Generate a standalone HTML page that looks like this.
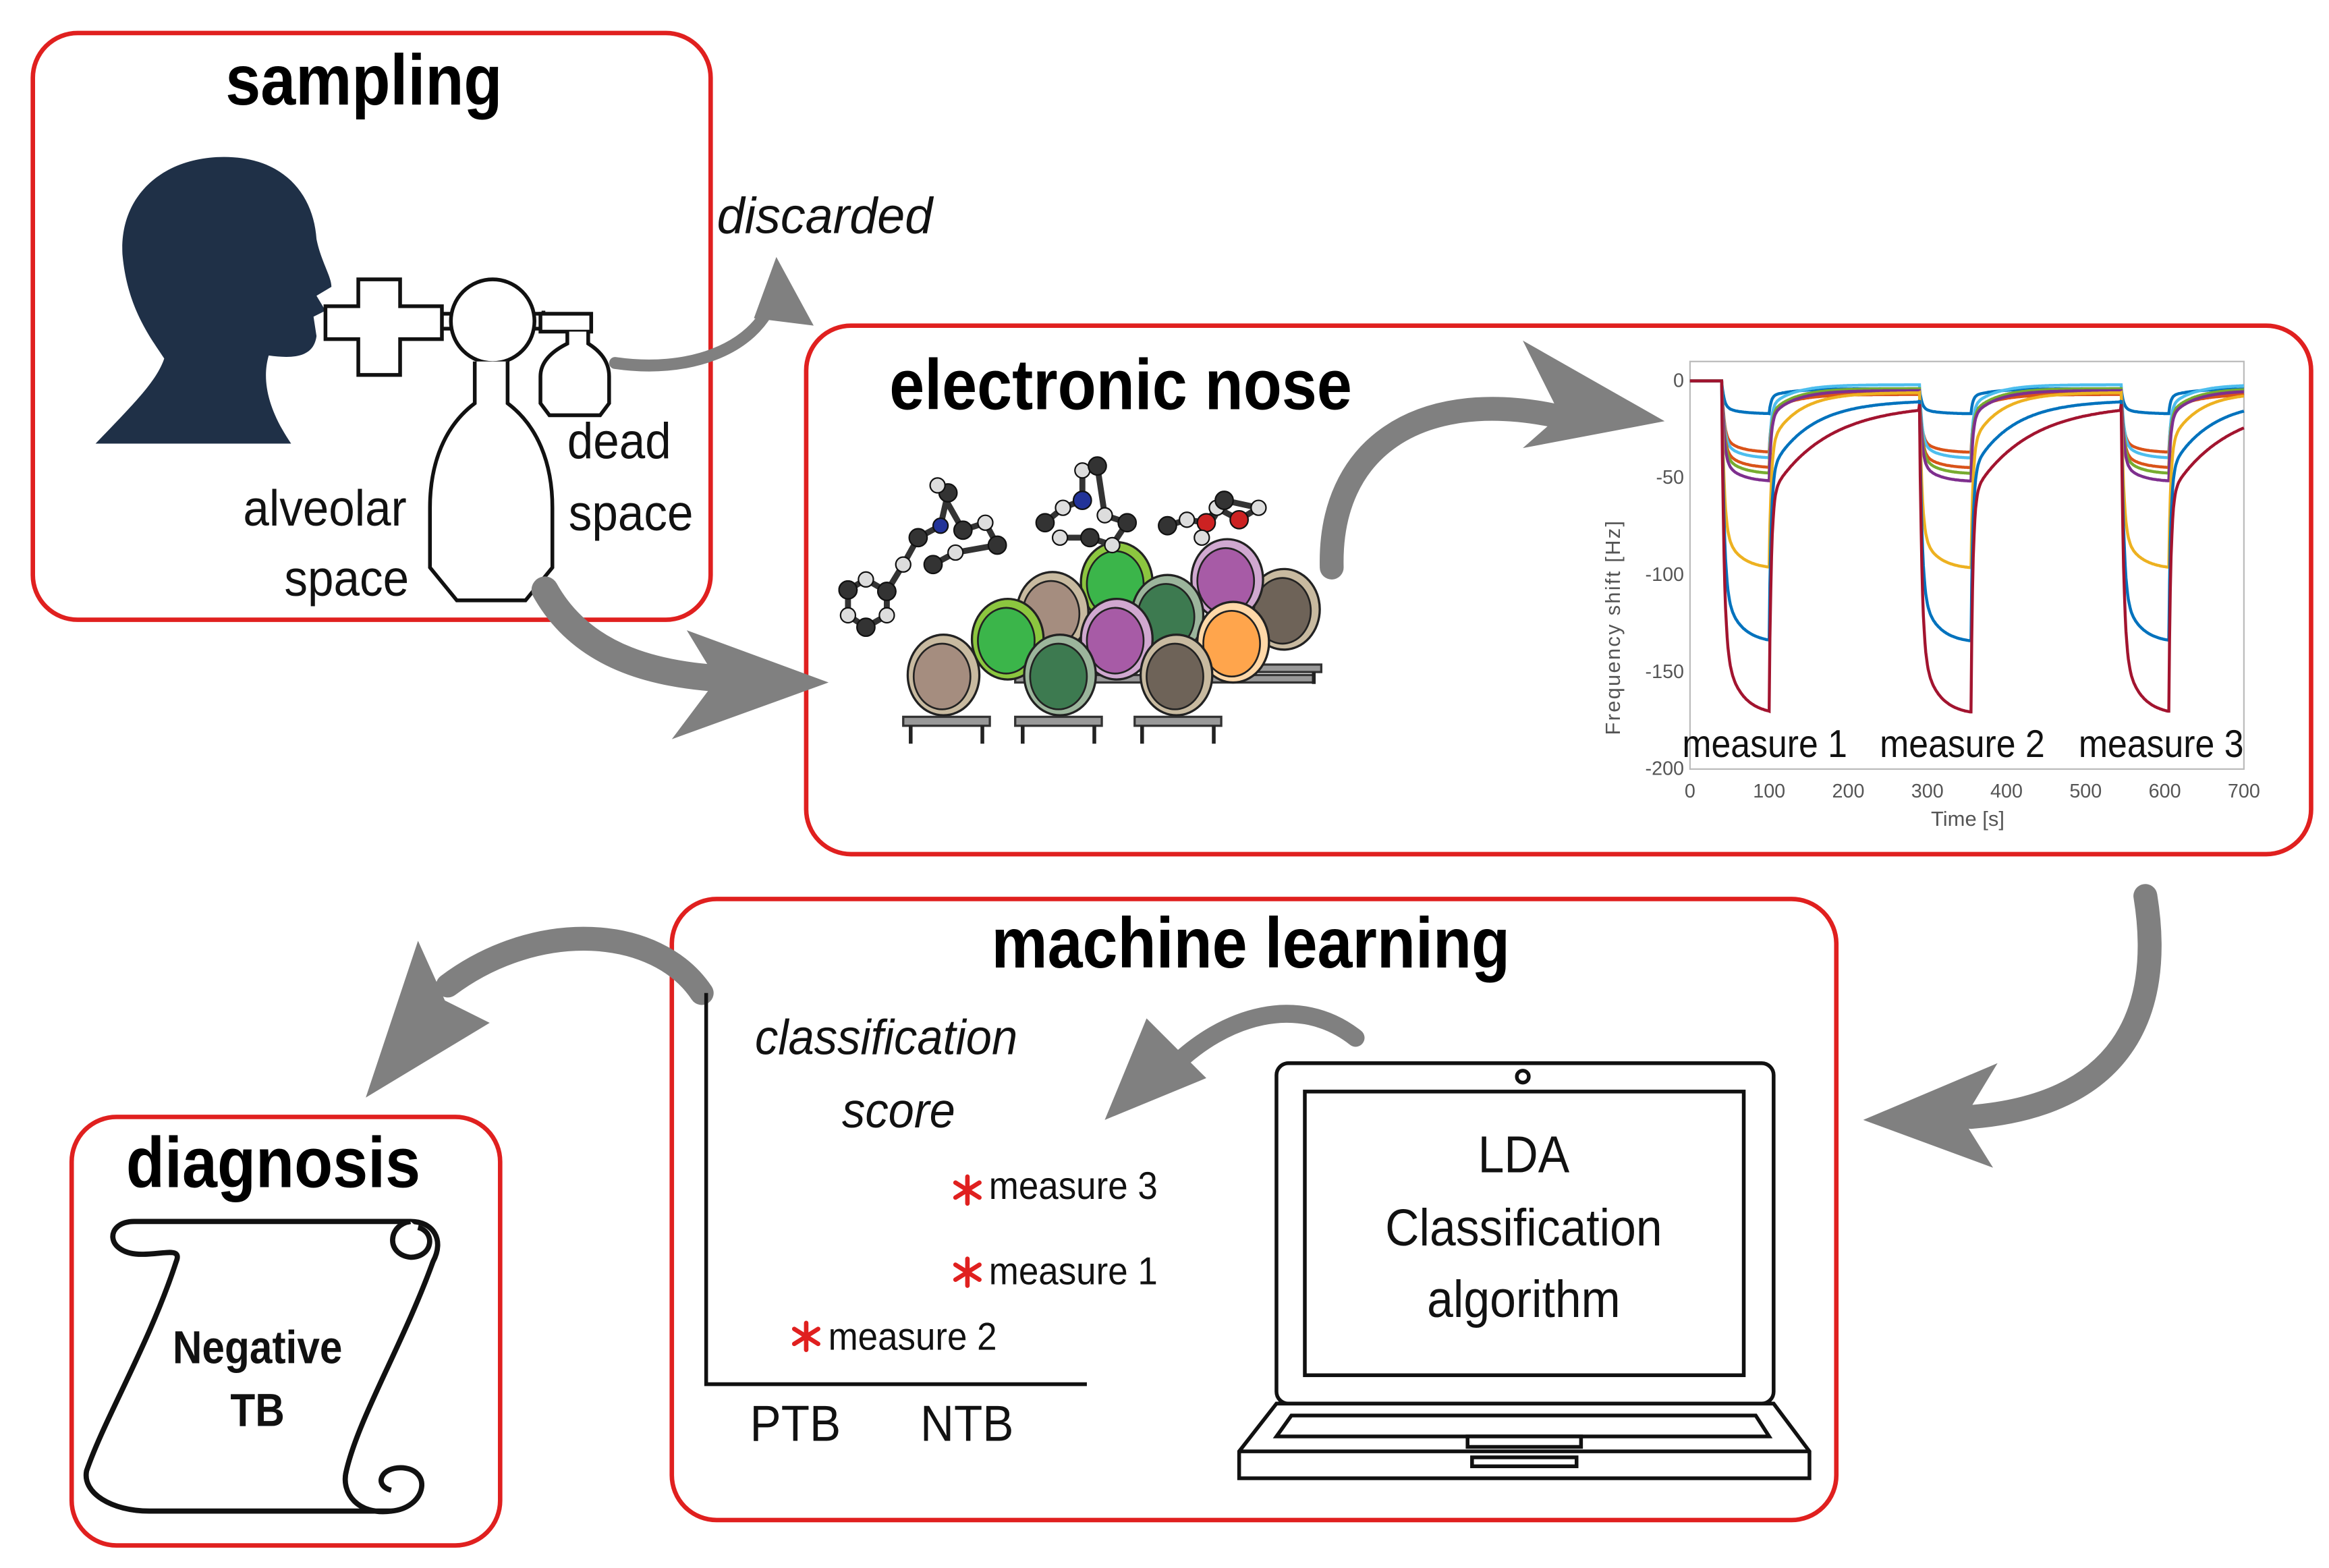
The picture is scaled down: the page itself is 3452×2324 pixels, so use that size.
<!DOCTYPE html>
<html><head><meta charset="utf-8"><style>
html,body{margin:0;padding:0;background:#fff}
svg{display:block}
text{font-family:"Liberation Sans",sans-serif}
</style></head><body>
<svg id="s" width="3452" height="2324" viewBox="0 0 1560 1050" xmlns="http://www.w3.org/2000/svg">
<g fill="none" stroke="#e0201f" stroke-width="3">
<rect x="22" y="22" width="454" height="393" rx="30"/>
<rect x="540" y="218" width="1008" height="354" rx="30"/>
<rect x="450" y="602" width="780" height="416" rx="30"/>
<rect x="48" y="748" width="287" height="287" rx="30"/>
</g>
<g font-weight="bold" text-anchor="middle" font-size="48" transform="scale(0.88,1)">
<text x="277" y="70">sampling</text>
<text x="853" y="274">electronic nose</text>
<text x="952" y="648">machine learning</text>
<text x="208" y="795">diagnosis</text>
</g>
<!-- head -->
<path d="M64,297 C90,270 105,255 110,240 C100,225 85,205 82,170 C80,130 110,105 150,105 C190,105 210,130 212,160 C215,175 222,185 222,192 L212,198 L218,208 L210,212 L212,225 C210,240 195,240 180,238 C175,255 180,275 195,297 Z" fill="#1f3047"/>
<!-- device -->
<g fill="#fff" stroke="#111" stroke-width="2.5">
<path d="M218,205 h22 v-18 h28 v18 h28 v22 h-28 v24 h-28 v-24 h-22z"/>
<path d="M296,210 h68 v-2 M296,220 h68"/>
<path d="M362,210 h34 v12 h-34z"/>
<circle cx="330" cy="215" r="28"/>
<path d="M318,242 v28 c-20,15 -30,40 -30,70 v40 l18,22 h46 l18,-22 v-40 c0,-30 -10,-55 -30,-70 v-28"/>
<path d="M380,222 v8 c-10,5 -18,12 -18,22 v18 l6,8 h34 l6,-8 v-18 c0,-10 -6,-17 -14,-22 v-8"/>
</g>
<g font-size="34" fill="#111" transform="scale(0.92,1)">
<text x="413" y="307">dead</text>
<text x="414" y="355">space</text>
<text x="177" y="352">alveolar</text>
<text x="207" y="399">space</text>
</g>
<text x="490" y="156" font-size="34" font-style="italic" fill="#111" transform="scale(0.98,1)">discarded</text>
<!-- gray arrows -->
<g fill="none" stroke="#808080" stroke-linecap="round">
<path d="M412,243 C460,250 505,235 518,200" stroke-width="8"/>
<path d="M365,395 C390,440 440,455 505,455" stroke-width="18"/>
<path d="M892,380 C890,300 950,260 1040,278" stroke-width="16"/>
<path d="M1437,600 C1450,680 1420,740 1320,748" stroke-width="16"/>
<path d="M908,695 C870,665 820,680 785,715" stroke-width="12"/>
<path d="M470,665 C440,620 360,615 300,660" stroke-width="16"/>
</g>
<g fill="#808080">
<polygon points="505,213 545,218 520,172"/>
<polygon points="460,422 555,457 450,495 480,455"/>
<polygon points="1020,228 1115,282 1020,300 1045,278"/>
<polygon points="1338,712 1248,750 1335,782 1315,750"/>
<polygon points="768,682 740,750 808,722"/>
<polygon points="280,630 245,735 328,685 298,670"/>
</g>
<g id="sensors"></g>
<!-- chart -->
<g font-size="13" fill="#555">
<rect x="1132" y="242" width="371" height="273" fill="none" stroke="#bbb" stroke-width="1"/>
<text x="1128" y="259" text-anchor="end">0</text>
<text x="1128" y="324" text-anchor="end">-50</text>
<text x="1128" y="389" text-anchor="end">-100</text>
<text x="1128" y="454" text-anchor="end">-150</text>
<text x="1128" y="519" text-anchor="end">-200</text>
<text x="1132" y="534" text-anchor="middle">0</text>
<text x="1185" y="534" text-anchor="middle">100</text>
<text x="1238" y="534" text-anchor="middle">200</text>
<text x="1291" y="534" text-anchor="middle">300</text>
<text x="1344" y="534" text-anchor="middle">400</text>
<text x="1397" y="534" text-anchor="middle">500</text>
<text x="1450" y="534" text-anchor="middle">600</text>
<text x="1503" y="534" text-anchor="middle">700</text>
<text x="1318" y="553" text-anchor="middle" font-size="14">Time [s]</text>
<text transform="translate(1085,420) rotate(-90)" text-anchor="middle" font-size="14" letter-spacing="1">Frequency shift [Hz]</text>
</g>
<g id="curves" fill="none" stroke-width="2"></g>
<g font-size="26" fill="#111" transform="scale(0.9,1)">
<text x="1252" y="507">measure 1</text>
<text x="1399" y="507">measure 2</text>
<text x="1547" y="507">measure 3</text>
</g>
<!-- ML plot -->
<path d="M473,665 V927 H728" fill="none" stroke="#111" stroke-width="2.5"/>
<g font-size="33" font-style="italic" fill="#111" transform="scale(0.94,1)">
<text x="538" y="706">classification</text>
<text x="600" y="755">score</text>
</g>
<g font-size="26" fill="#111" transform="scale(0.92,1)">
<text x="720" y="803">measure 3</text>
<text x="720" y="860">measure 1</text>
<text x="603" y="904">measure 2</text>
<text x="546" y="965" font-size="34">PTB</text>
<text x="670" y="965" font-size="34">NTB</text>
</g>
<g stroke="#e0201f" stroke-width="3" stroke-linecap="round">
<path d="M648,788 v18 M640,792 l16,10 M640,802 l16,-10"/>
<path d="M648,843 v18 M640,847 l16,10 M640,857 l16,-10"/>
<path d="M540,886 v18 M532,890 l16,10 M532,900 l16,-10"/>
</g>
<!-- laptop -->
<g fill="#fff" stroke="#111" stroke-width="2.5">
<rect x="855" y="712" width="333" height="228" rx="8"/>
<rect x="874" y="731" width="294" height="190"/>
<circle cx="1020" cy="721" r="4"/>
<path d="M855,940 L830,972 V990 H1212 V972 L1188,940Z"/>
<path d="M830,972 H1212"/>
<path d="M865,948 L855,962 H1185 L1176,948Z"/>
<rect x="983" y="962" width="76" height="7"/>
<rect x="986" y="976" width="70" height="6"/>
</g>
<g font-size="35" fill="#111" text-anchor="middle" transform="scale(0.9,1)">
<text x="1134" y="785">LDA</text>
<text x="1134" y="834">Classification</text>
<text x="1134" y="882">algorithm</text>
</g>
<!-- scroll -->
<g fill="#fff" stroke="#111" stroke-width="3.5" stroke-linejoin="round">
<path d="M90,818 H275 C290,818 298,830 290,845 C270,900 240,950 232,985 C228,1000 240,1015 262,1012 H100 C75,1012 55,1000 58,985 C70,950 100,900 118,845 C122,835 110,840 95,840 C70,840 70,818 90,818Z"/>
<path d="M262,1012 C285,1010 290,985 270,983 C255,982 250,995 262,998"/>
<path d="M275,818 C260,820 258,840 275,842 C290,842 292,825 280,822"/>
</g>
<g font-size="31" font-weight="bold" fill="#111" text-anchor="middle" transform="scale(0.88,1)">
<text x="196" y="913">Negative</text>
<text x="196" y="955">TB</text>
</g>
</svg>
<script>
(function(){
var NS="http://www.w3.org/2000/svg";
function el(n,a,p){var e=document.createElementNS(NS,n);for(var k in a)e.setAttribute(k,a[k]);p.appendChild(e);return e;}
var sg=document.getElementById('sensors');
[[605,480],[680,480],[760,480]].forEach(function(b){el('rect',{x:b[0],y:b[1],width:58,height:6,fill:'#999',stroke:'#333','stroke-width':1.5},sg);el('path',{d:'M'+(b[0]+5)+','+(b[1]+6)+' v12 M'+(b[0]+53)+','+(b[1]+6)+' v12',stroke:'#222','stroke-width':2.5},sg);});
[[680,452,200],[840,445,45]].forEach(function(b){el('rect',{x:b[0],y:b[1],width:b[2],height:5,fill:'#999',stroke:'#333','stroke-width':1.5},sg);});
el('path',{d:'M880,450 v8',stroke:'#222','stroke-width':2.5},sg);
var S=[[860,408,'#6e6358','#c8baa0'],[822,388,'#a75ba6','#d0a8d0'],[748,390,'#3bb54a','#8cc63f'],[705,410,'#a58d7f','#c8baa0'],[782,412,'#3d7a50','#9cb59c'],[675,428,'#3bb54a','#8cc63f'],[748,428,'#a75ba6','#d0a8d0'],[826,430,'#ffa54c','#ffd8a8'],[632,452,'#a58d7f','#c8baa0'],[710,452,'#3d7a50','#9cb59c'],[788,452,'#6e6358','#c8baa0']];
S.forEach(function(s){el('ellipse',{cx:s[0],cy:s[1],rx:24,ry:27,fill:s[3],stroke:'#222','stroke-width':1.5},sg);el('ellipse',{cx:s[0]-1,cy:s[1]+1,rx:19,ry:22,fill:s[2],stroke:'#222','stroke-width':1.2},sg);});
function mol(pts,col){var d='';pts.forEach(function(p,i){d+=(i?'L':'M')+p[0]+','+p[1];});el('path',{d:d,stroke:'#333','stroke-width':4,fill:'none'},sg);pts.forEach(function(p,i){el('circle',{cx:p[0],cy:p[1],r:i%2?5:6,fill:(col&&col[i])||(i%2?'#ddd':'#333'),stroke:'#111','stroke-width':1},sg);});}
mol([[568,395],[580,388],[594,396],[594,412],[580,420],[568,412],[568,395]]);
mol([[594,396],[605,378],[615,360],[630,352],[635,330],[628,325],[645,355],[660,350],[668,365],[640,370],[625,378]],{3:'#223399'});
mol([[700,350],[712,340],[725,335],[725,315],[735,312],[740,345],[755,350],[745,365],[730,360],[710,360]],{2:'#223399'});
mol([[782,352],[795,348],[808,350],[815,340],[830,348],[843,340],[820,335],[805,360]],{2:'#cc2222',4:'#cc2222'});
var cg=document.getElementById('curves');
var W=[[40,100],[290,355],[545,605]];
// color, amplitude, recovery offset, slow recovery tau
var C=[['#0072bd',17,-4,30],['#d95319',37,-7,30],['#4dbeee',40,-2,30],['#d95319',45,-6,30],['#77ac30',48,-4,30],['#7e2f8e',52,-5,30],['#edb120',97,-6,35],['#0072bd',135,-10,50],['#a2142f',172,-12,70]];
C.forEach(function(c){var d='';
for(var t=0;t<=700;t+=1){var v=0;
var cur=null,last=null;W.forEach(function(w){if(t>=w[0]&&t<w[1])cur=w;if(t>=w[1])last=w;});
var A=-c[1];
function ex(dt){return A*(0.78*(1-Math.exp(-dt/3))+0.22*(1-Math.exp(-dt/20)));}
if(cur){var base=last?c[2]:0;v=base+(ex(t-cur[0])-base*0)*(1)-0; if(last){v=c[2]+ex(t-cur[0])*(1-c[2]/A);} }
else if(last){var ve=last?((last===W[0])?ex(60):ex(last[1]-last[0])):0;var dt=t-last[1];v=c[2]+(ve-c[2])*(0.7*Math.exp(-dt/2.5)+0.3*Math.exp(-dt/c[3]));}
var x=1132+t*0.53,y=255-v*1.3;d+=(t?'L':'M')+x.toFixed(1)+','+y.toFixed(1);}
el('path',{d:d,stroke:c[0]},cg);});
})();
</script>
</body></html>
